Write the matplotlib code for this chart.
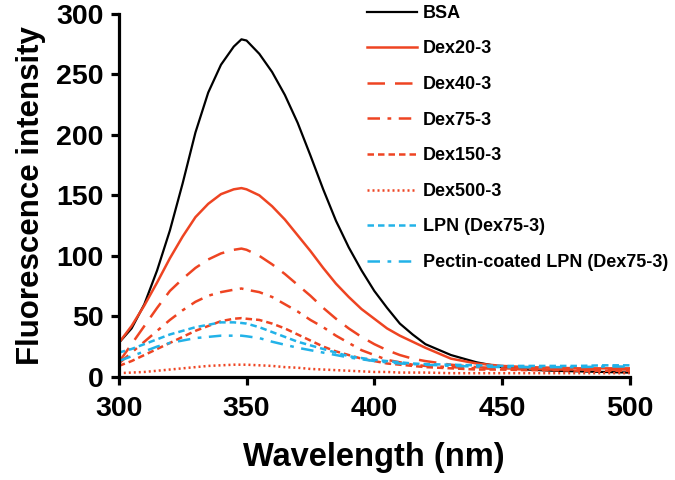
import matplotlib
matplotlib.use("Agg")
import matplotlib.pyplot as plt

plt.rcParams['font.family'] = ['Liberation Sans', 'DejaVu Sans']
plt.rcParams['font.weight'] = 'bold'

# wavelength grid (nm)
wavelength = [300, 305, 310, 315, 320, 325, 330, 335, 340, 345, 348, 350,
              355, 360, 365, 370, 375, 380, 385, 390, 395, 400, 405, 410,
              415, 420, 430, 440, 450, 460, 470, 480, 490, 500]

# fluorescence intensity
bsa = [28, 40, 60, 88, 121, 160, 202, 235, 258, 273, 279, 278,
       267, 252, 233, 210, 183, 155, 129, 107, 88, 71, 57, 44,
       35, 27, 18, 12, 8, 6, 5, 4.5, 4, 3.5]
dex20 = [28, 42, 59, 78, 98, 116, 132, 143, 151, 155, 156, 155,
         150, 141, 130, 117, 104, 90, 77, 66, 56, 48, 40, 34,
         29, 24, 15, 11, 9, 8, 7.5, 7, 7, 7]
dex40 = [12, 27, 42, 57, 71, 81, 90, 97, 102, 105, 106, 105,
         100, 93, 85, 76, 67, 57, 48, 40, 33, 27, 22, 18,
         15, 13, 10, 8, 7, 6.5, 6, 6, 6, 6]
dex75 = [11, 20, 29, 38, 47, 55, 62, 67, 70, 72, 73, 72,
         70, 66, 60, 54, 47, 41, 34, 28, 22, 18, 14, 12,
         10, 9, 8, 7, 6.5, 6, 6, 6, 6, 6]
dex150 = [9, 13, 18, 23, 28, 33, 38, 42, 46, 48, 48.5, 48,
          47, 44, 40, 35, 30, 25, 21, 18, 15, 13, 11, 10,
          9, 8, 7, 6, 6, 5.5, 5.5, 5, 5, 5]
dex500 = [3, 3.5, 4, 5, 6, 7, 8, 9, 9.5, 10, 10, 10,
          9.5, 9, 8, 7.5, 6.5, 6, 5.5, 5, 4.5, 4, 4, 3.5,
          3.5, 3.5, 3, 3, 3, 3, 3, 3, 3, 3]
lpn = [20, 23, 27, 31, 35, 38, 41, 43, 45, 45, 44.5, 44,
       41, 37, 33, 29, 26, 23, 20, 17, 15.5, 14, 13, 12,
       11, 10.5, 10, 9.5, 9, 9, 9, 9, 9.5, 9.5]
pectin_lpn = [13, 17, 21, 25, 28, 30, 32, 33, 34, 34, 34, 33.5,
              32, 29, 26.5, 24, 22, 20, 18, 16, 14.5, 13, 12, 11,
              10.5, 10, 9, 8.5, 8, 8, 8, 8, 8.5, 8.5]

labels = ["BSA", "Dex20-3", "Dex40-3", "Dex75-3", "Dex150-3", "Dex500-3",
          "LPN (Dex75-3)", "Pectin-coated LPN (Dex75-3)"]

red = "#EE4422"
blue = "#22B2E8"

fig = plt.figure(figsize=(6.75, 4.8), dpi=100)
ax = fig.add_axes([0.176, 0.215, 0.757, 0.756])

ax.plot(wavelength, bsa, color="black", lw=1.6, label=labels[0])
ax.plot(wavelength, dex20, color=red, lw=1.8, label=labels[1])
ax.plot(wavelength, dex40, color=red, lw=1.8, dashes=(7, 4), label=labels[2])
ax.plot(wavelength, dex75, color=red, lw=1.8, dashes=(5, 3, 1.5, 3), label=labels[3])
ax.plot(wavelength, dex150, color=red, lw=1.8, dashes=(2.6, 1.6), label=labels[4])
ax.plot(wavelength, dex500, color=red, lw=1.8, dashes=(0.8, 1.2), label=labels[5])
ax.plot(wavelength, lpn, color=blue, lw=1.8, dashes=(2.6, 1.6), label=labels[6])
ax.plot(wavelength, pectin_lpn, color=blue, lw=1.8, dashes=(5, 3, 1.5, 3), label=labels[7])

ax.set_xlim(300, 500)
ax.set_ylim(0, 300)
ax.set_xticks([300, 350, 400, 450, 500])
ax.set_yticks([0, 50, 100, 150, 200, 250, 300])

for side in ["top", "right"]:
    ax.spines[side].set_visible(False)
for side in ["left", "bottom"]:
    ax.spines[side].set_linewidth(2.3)
ax.tick_params(direction="out", length=6, width=2.3, labelsize=20.5)
ax.tick_params(axis="x", pad=8)
ax.tick_params(axis="y", pad=5)

ax.set_xlabel("Wavelength (nm)", fontsize=23.5, fontweight="bold", labelpad=14)
ax.set_ylabel("Fluorescence intensity", fontsize=22.5, fontweight="bold", labelpad=7)

leg = ax.legend(loc="upper left", bbox_to_anchor=(0.485, 1.025), frameon=False,
                fontsize=13, handlelength=2.8, handletextpad=0.3,
                labelspacing=1.03, borderpad=0, borderaxespad=0)

fig.savefig("out.png", dpi=100)
